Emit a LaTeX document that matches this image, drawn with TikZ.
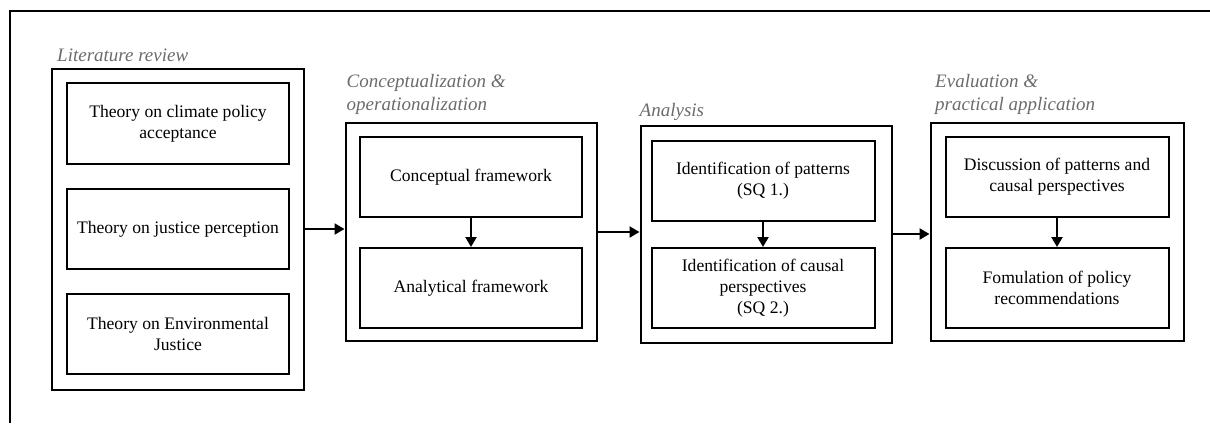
\documentclass[tikz,border=0pt]{standalone}
\usepackage{fontspec}
\setmainfont{Liberation Serif}
\usetikzlibrary{arrows.meta}
\definecolor{labelgray}{gray}{0.42}
\tikzset{
  stepbox/.style={draw, line width=2pt, inner sep=0pt, align=center,
    font=\fontsize{17.6}{21}\selectfont},
  groupbox/.style={draw, line width=2pt, inner sep=0pt},
  phaselabel/.style={inner sep=0pt, align=left, text=labelgray,
    font=\fontsize{19}{22.5}\selectfont\itshape},
  flow/.style={line width=2.2pt, -{Triangle[length=10pt,width=11pt]}},
}
\begin{document}
\begin{tikzpicture}[x=1pt, y=-1pt]
\useasboundingbox (0,0) rectangle (1210,423);
% frame lines along the top and left edges
\coordinate (frameTL) at (10,11);
\coordinate (frameTR) at (1210,11);
\coordinate (frameBL) at (10,423);
\draw[line width=2pt] (frameTR) -- (frameTL) -- (frameBL);

% phase 1: literature review
\node[groupbox, minimum width=252pt, minimum height=321pt] (lit) at (178,229) {};
\node[phaselabel, anchor=base west] (litlab) at (57,61) {Literature review};
\node[stepbox, minimum width=222pt, minimum height=81pt] (l1) at (178,123.5)
  {Theory on climate policy\\acceptance};
\node[stepbox, minimum width=222pt, minimum height=80pt] (l2) at (178,229)
  {Theory on justice perception};
\node[stepbox, minimum width=222pt, minimum height=80pt] (l3) at (178,334)
  {Theory on Environmental\\Justice};

% phase 2: conceptualization
\node[groupbox, minimum width=251pt, minimum height=218pt] (con) at (471,232) {};
\node[phaselabel, anchor=base west] (conlab) at (346.5,110)
  {Conceptualization \&\\operationalization};
\node[stepbox, minimum width=222pt, minimum height=80pt] (c1) at (471,177)
  {Conceptual framework};
\node[stepbox, minimum width=222pt, minimum height=80pt] (c2) at (471,288)
  {Analytical framework};

% phase 3: analysis
\node[groupbox, minimum width=251pt, minimum height=217pt] (ana) at (766,234) {};
\node[phaselabel, anchor=base west] (analab) at (639.5,116.5) {Analysis};
\node[stepbox, minimum width=223pt, minimum height=80pt] (a1) at (763,181)
  {Identification of patterns\\(SQ 1.)};
\node[stepbox, minimum width=223pt, minimum height=80pt] (a2) at (763,288)
  {Identification of causal\\perspectives\\(SQ 2.)};

% phase 4: evaluation
\node[groupbox, minimum width=253pt, minimum height=218pt] (eva) at (1057,232) {};
\node[phaselabel, anchor=base west] (evalab) at (935,110)
  {Evaluation \&\\practical application};
\node[stepbox, minimum width=223pt, minimum height=80pt] (e1) at (1057,177)
  {Discussion of patterns and\\causal perspectives};
\node[stepbox, minimum width=223pt, minimum height=80pt] (e2) at (1057,288)
  {Fomulation of policy\\recommendations};

% connectors
\draw[flow] (lit.east) -- (lit.east -| con.west);
\draw[flow] (con.east) -- (con.east -| ana.west);
\draw[flow] (ana.east) -- (ana.east -| eva.west);
\draw[flow] (c1) -- (c2);
\draw[flow] (a1) -- (a2);
\draw[flow] (e1) -- (e2);
\end{tikzpicture}
\end{document}
